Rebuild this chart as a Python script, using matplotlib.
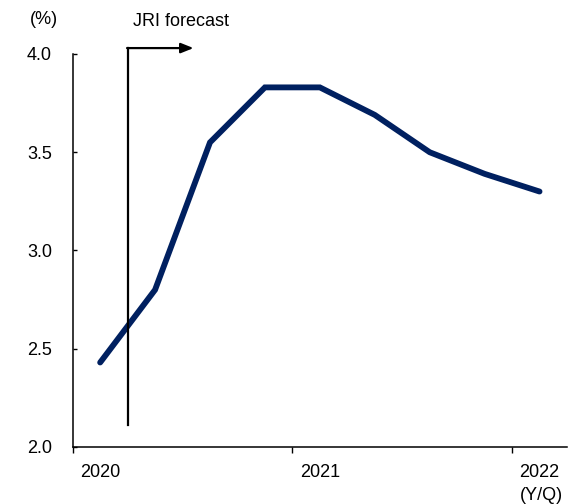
import matplotlib.pyplot as plt
from matplotlib.ticker import FixedLocator, NullFormatter

plt.rcParams['font.family'] = ['Liberation Sans', 'DejaVu Sans']

# quarterly values, 2020Q1 .. 2022Q1
quarters = ['2020Q1', '2020Q2', '2020Q3', '2020Q4',
            '2021Q1', '2021Q2', '2021Q3', '2021Q4', '2022Q1']
rate = [2.43, 2.80, 3.55, 3.83, 3.83, 3.69, 3.50, 3.39, 3.30]
year_labels = ['2020', '2021', '2022']
yticks = [2.0, 2.5, 3.0, 3.5, 4.0]
forecast_start = 1.0  # boundary between 2020Q1 and 2020Q2

fig = plt.figure(figsize=(5.71, 5.04), dpi=100)
ax = fig.add_axes([0.1273, 0.1131, 0.8657, 0.7798])

xs = [i + 0.5 for i in range(len(quarters))]
ax.plot(xs, rate, color='#002060', lw=4.2, solid_capstyle='round',
        solid_joinstyle='miter')

ax.set_xlim(0, 9)
ax.set_ylim(2.0, 4.0)

# years: tick marks at year boundaries, labels under the first quarter
ax.xaxis.set_major_locator(FixedLocator([0, 4, 8]))
ax.xaxis.set_major_formatter(NullFormatter())
ax.xaxis.set_minor_locator(FixedLocator([0.5, 4.5, 8.5]))
ax.set_xticklabels(year_labels, minor=True)
ax.tick_params(axis='x', which='major', direction='out', length=4, width=1)
ax.tick_params(axis='x', which='minor', length=0, pad=12, labelsize=13)

ax.set_yticks(yticks)
ax.set_yticklabels([f'{v:.1f}' for v in yticks])
ax.tick_params(axis='y', direction='in', length=3, width=1, pad=15,
               labelsize=13)

for s in ['top', 'right']:
    ax.spines[s].set_visible(False)
for s in ['left', 'bottom']:
    ax.spines[s].set_linewidth(1.1)

# forecast marker: vertical line and arrow to the right
ax.plot([forecast_start, forecast_start], [2.11, 4.03], color='black',
        lw=1.6, clip_on=False)
ax.annotate('', xy=(2.2, 4.03), xytext=(forecast_start - 0.01, 4.03),
            annotation_clip=False,
            arrowprops=dict(arrowstyle='-|>,head_length=0.75,head_width=0.3',
                            color='black', lw=1.6, shrinkA=0, shrinkB=0))

fig.text(133 / 571, 1 - 21 / 504, 'JRI forecast', fontsize=13,
         ha='left', va='center')
fig.text(44 / 571, 1 - 20 / 504, '(%)', fontsize=13, ha='center', va='center')
fig.text(563 / 571, 1 - 495 / 504, '(Y/Q)', fontsize=13,
         ha='right', va='center')

fig.savefig('out.png', dpi=100)
